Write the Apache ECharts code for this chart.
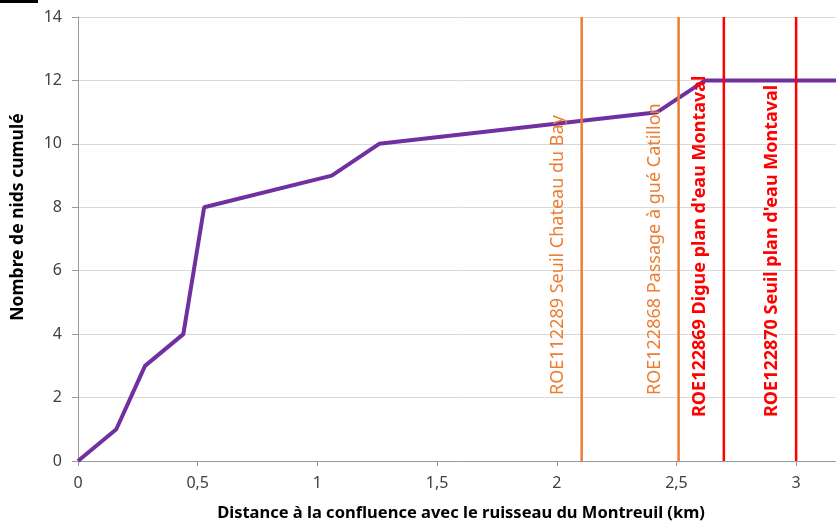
<!DOCTYPE html>
<html>
<head>
<meta charset="utf-8">
<script src="https://cdn.jsdelivr.net/npm/echarts@6/dist/echarts.min.js"></script>
<style>html,body{margin:0;padding:0;background:#fff;}#c{width:836px;height:526px;}</style>
</head>
<body>
<div id="c"></div>
<script>
// Cumulative nests along the stream
const distanceKm = [0, 0.16, 0.28, 0.44, 0.527, 1.06, 1.258, 2.42, 2.62, 3.2];
const nidsCumules = [0, 1, 3, 4, 8, 9, 10, 11, 12, 12];

// Obstacles (ROE)
const obstacleX = [2.104, 2.509, 2.698, 3.0];
const obstacleNames = [
  "ROE112289 Seuil Chateau du Bay",
  "ROE122868 Passage à gué Catillon",
  "ROE122869 Digue plan d'eau Montaval",
  "ROE122870 Seuil plan d'eau Montaval"
];
const obstacleKind = ["orange", "orange", "red", "red"];

const xTicks = { min: 0, max: 3.2, interval: 0.5 };
const yTicks = { min: 0, max: 14, interval: 2 };

const FONT = "'Noto Sans', 'Open Sans', sans-serif";
const kindStyle = {
  orange: { color: '#ED7D31', weight: 'normal', size: 18, offset: 66 },
  red: { color: '#FF0000', weight: 'bold', size: 18, offset: 44 }
};

const chart = echarts.init(document.getElementById('c'), null, { renderer: 'canvas' });
chart.setOption({
  animation: false,
  backgroundColor: '#ffffff',
  grid: { left: 78, top: 17, width: 766, height: 444, containLabel: false, outerBoundsMode: 'none' },
  graphic: [{ type: 'rect', shape: { x: 0, y: 0, width: 38, height: 3 }, style: { fill: '#000' } }],
  xAxis: {
    type: 'value', min: xTicks.min, max: xTicks.max, interval: xTicks.interval,
    name: 'Distance à la confluence avec le ruisseau du Montreuil (km)',
    nameLocation: 'middle', nameGap: 44,
    nameTextStyle: { fontFamily: FONT, fontWeight: 'bold', fontSize: 16.5, color: '#000' },
    axisLine: { lineStyle: { color: '#9a9a9a', width: 1 } },
    axisTick: { show: true, length: 5, lineStyle: { color: '#9a9a9a' } },
    splitLine: { show: false },
    axisLabel: {
      fontFamily: FONT, fontSize: 16, color: '#404040', margin: 14,
      formatter: v => (Math.abs(v - 3.2) < 1e-9 ? '' : String(v).replace('.', ','))
    }
  },
  yAxis: {
    type: 'value', min: yTicks.min, max: yTicks.max, interval: yTicks.interval,
    name: 'Nombre de nids cumulé', nameLocation: 'middle', nameGap: 51,
    nameTextStyle: { fontFamily: FONT, fontWeight: 'bold', fontSize: 17.5, color: '#000', padding: [0, 0, 0, 44] },
    axisLine: { show: true, lineStyle: { color: '#9a9a9a', width: 1 } },
    axisTick: { show: true, length: 6, lineStyle: { color: '#9a9a9a' } },
    splitLine: { show: true, lineStyle: { color: '#d9d9d9', width: 1 } },
    axisLabel: { fontFamily: FONT, fontSize: 16, color: '#404040', margin: 16 }
  },
  series: [
    {
      type: 'line',
      data: distanceKm.map((d, i) => [d, nidsCumules[i]]),
      showSymbol: false, symbol: 'none',
      lineStyle: { color: '#7030A0', width: 4 },
      z: 3
    },
    {
      type: 'custom',
      data: obstacleX.map((x, i) => [x, i]),
      clip: false,
      z: 4,
      renderItem: function (params, api) {
        const xv = api.value(0);
        const idx = api.value(1);
        const st = kindStyle[obstacleKind[idx]];
        const bottom = api.coord([xv, yTicks.min]);
        const top = api.coord([xv, yTicks.max]);
        return {
          type: 'group',
          children: [
            { type: 'line', shape: { x1: bottom[0], y1: bottom[1], x2: top[0], y2: top[1] },
              style: { stroke: st.color, lineWidth: 2.5 } },
            { type: 'text', x: bottom[0] - 24, y: bottom[1] - st.offset, rotation: Math.PI / 2,
              style: { text: obstacleNames[idx], fill: st.color, font: st.weight + ' ' + st.size + 'px ' + FONT,
                       textAlign: 'left', textVerticalAlign: 'middle' } }
          ]
        };
      }
    }
  ]
});
</script>
</body>
</html>
